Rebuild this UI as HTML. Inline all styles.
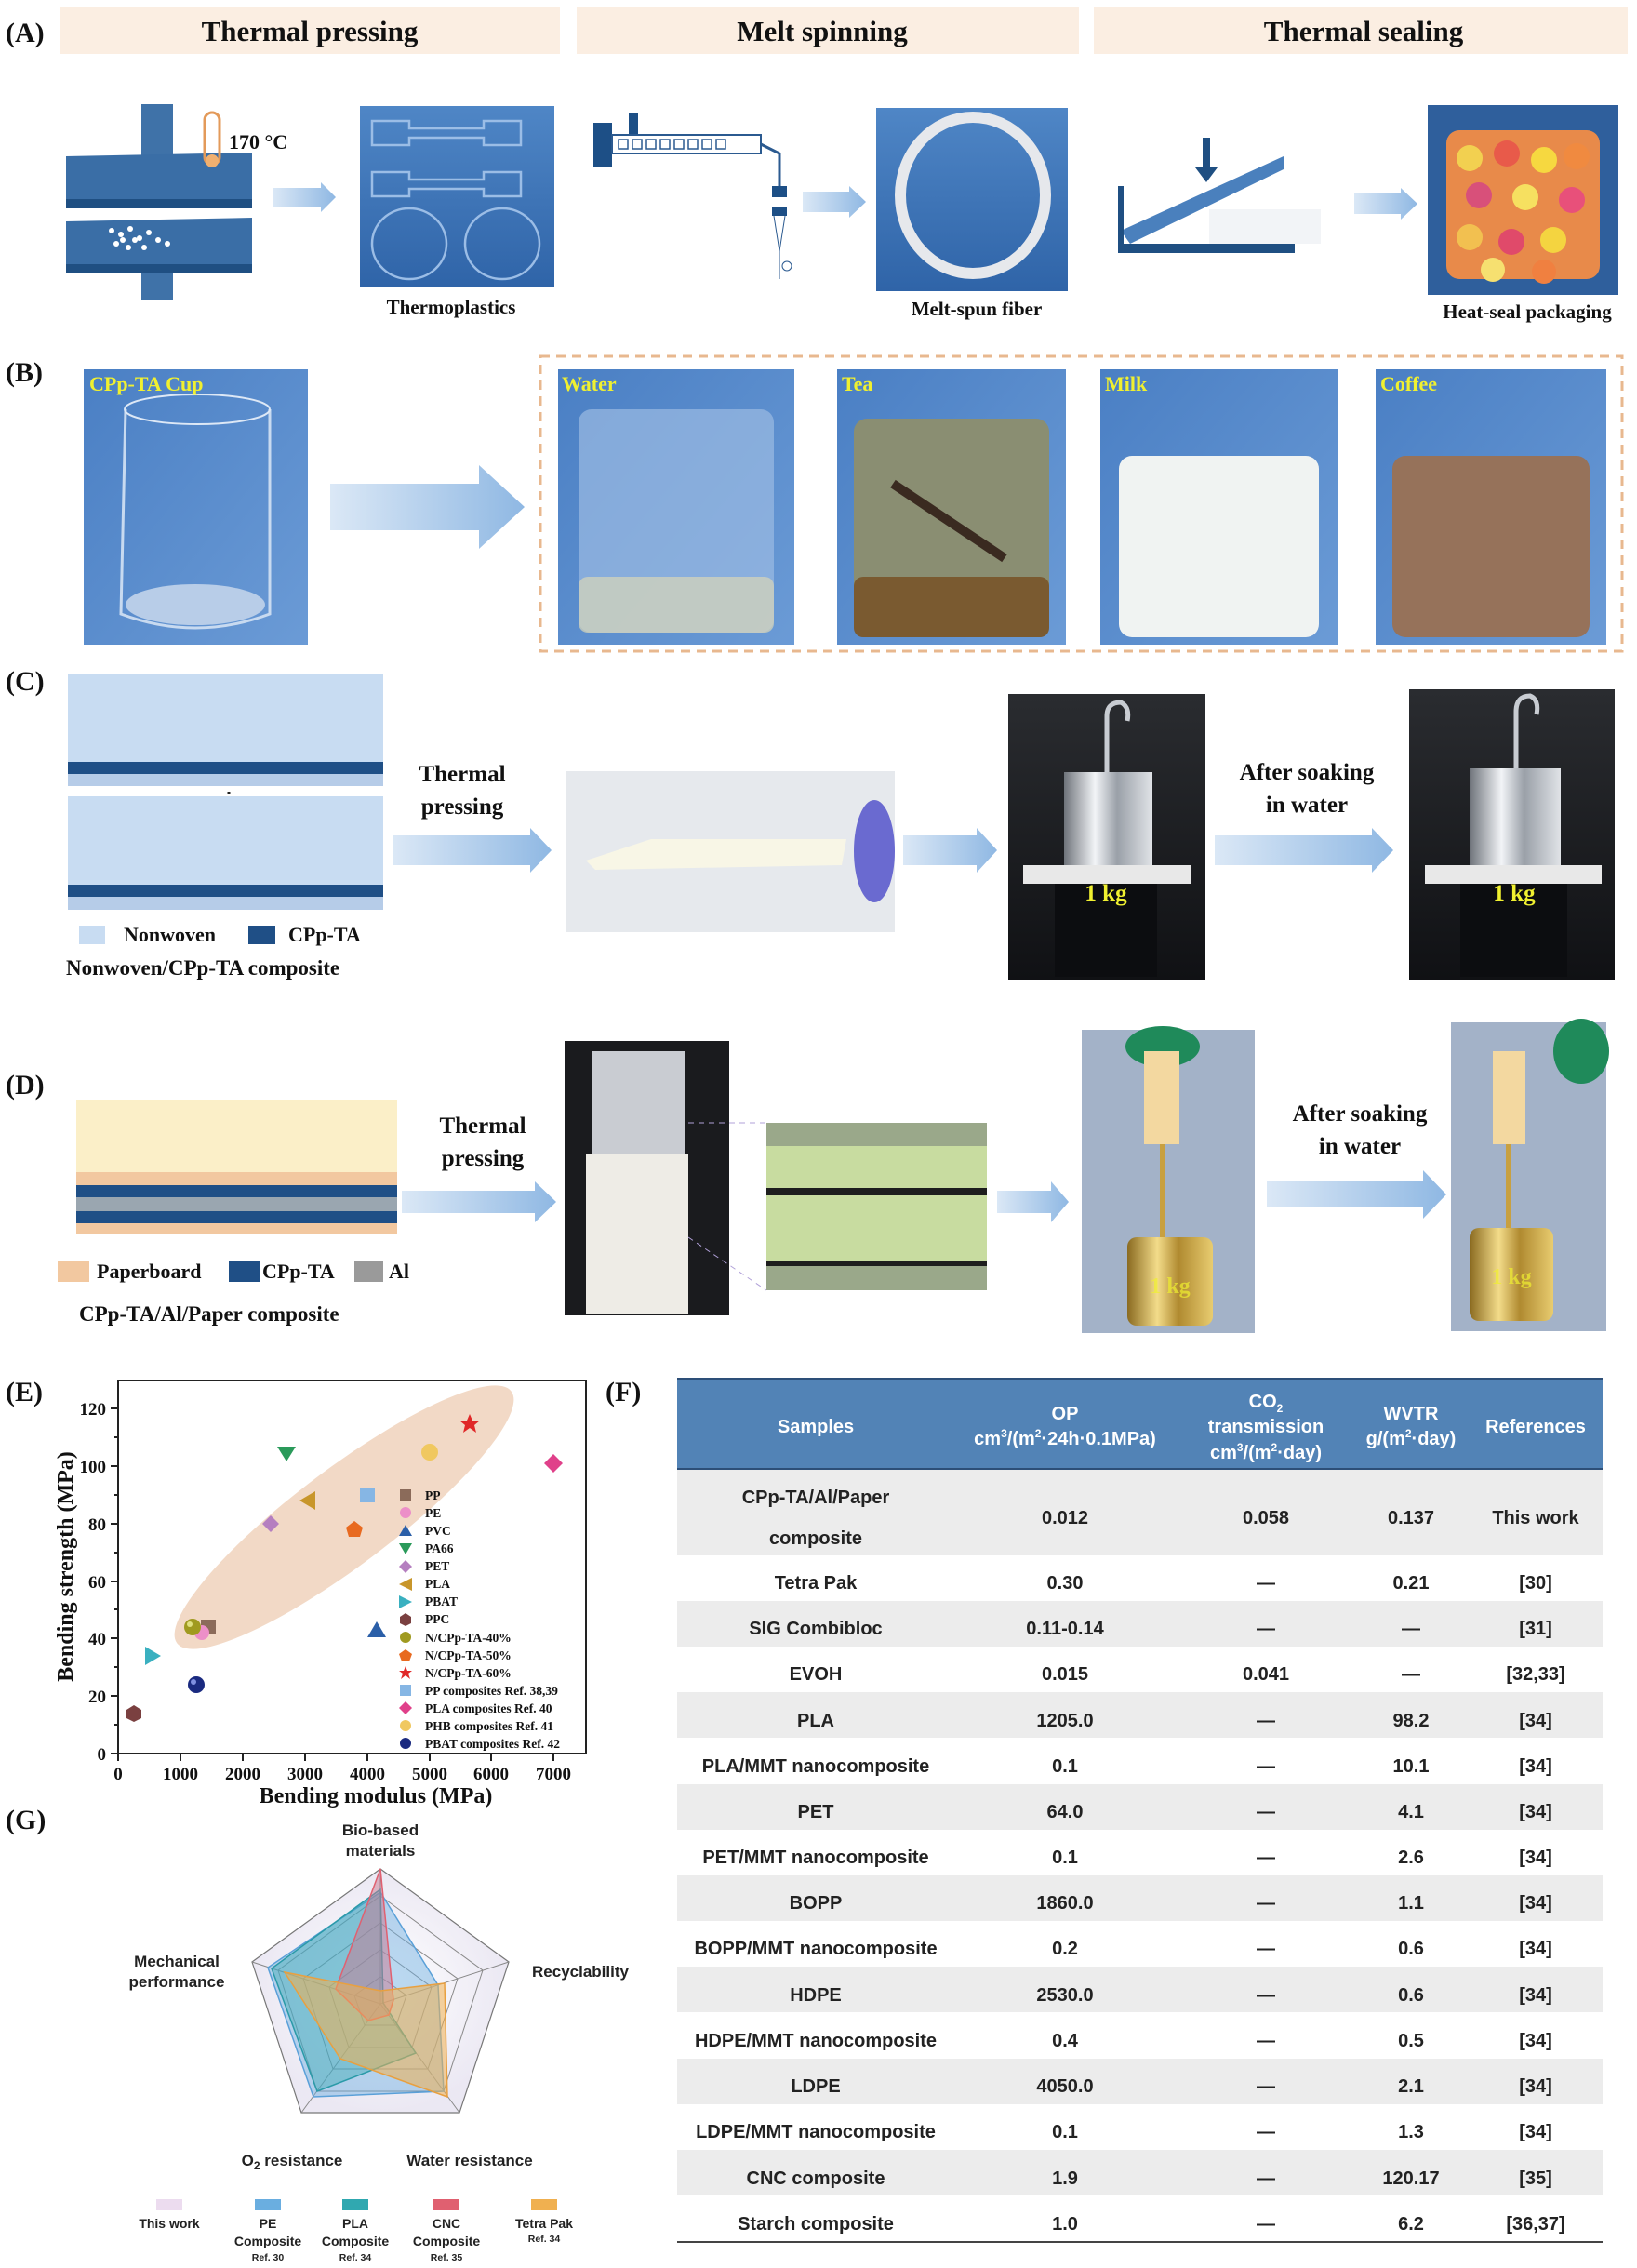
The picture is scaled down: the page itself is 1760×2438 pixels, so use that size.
<!DOCTYPE html>
<html><head><meta charset="utf-8"><style>
html,body{margin:0;padding:0;background:#fff;}
svg{display:block;}
.lab{font-family:"Liberation Serif",serif;font-weight:bold;font-size:30px;fill:#111;}
.ser{font-family:"Liberation Serif",serif;font-weight:bold;fill:#111;}
.san{font-family:"Liberation Sans",sans-serif;font-weight:bold;fill:#222;}
.td{font-family:"Liberation Sans",sans-serif;font-weight:bold;font-size:20px;fill:#222;text-anchor:middle;}
.th{font-family:"Liberation Sans",sans-serif;font-weight:bold;font-size:20px;fill:#fff;text-anchor:middle;}
</style></head><body>
<svg width="1760" height="2438" viewBox="0 0 1760 2438" xmlns="http://www.w3.org/2000/svg">
<defs>
<linearGradient id="arr" x1="0" x2="1"><stop offset="0" stop-color="#dbe8f6"/><stop offset="1" stop-color="#8fb8e3"/></linearGradient>
<linearGradient id="blue" x1="0" y1="0" x2="0" y2="1"><stop offset="0" stop-color="#4f86c6"/><stop offset="1" stop-color="#2f64a8"/></linearGradient>
<linearGradient id="cupbg" x1="0" y1="0" x2="1" y2="1"><stop offset="0" stop-color="#4a7fc4"/><stop offset="1" stop-color="#6b9bd6"/></linearGradient>
<linearGradient id="dark" x1="0" y1="0" x2="0" y2="1"><stop offset="0" stop-color="#2a2c30"/><stop offset="1" stop-color="#101114"/></linearGradient>
<linearGradient id="steel" x1="0" x2="1"><stop offset="0" stop-color="#6e737a"/><stop offset="0.35" stop-color="#f2f4f7"/><stop offset="0.6" stop-color="#9aa0a8"/><stop offset="1" stop-color="#e0e3e7"/></linearGradient>
<linearGradient id="gold" x1="0" x2="1"><stop offset="0" stop-color="#8a6a20"/><stop offset="0.35" stop-color="#f3dc8a"/><stop offset="0.6" stop-color="#b08a30"/><stop offset="1" stop-color="#e8cc70"/></linearGradient>
<radialGradient id="radbg"><stop offset="0" stop-color="#ffffff"/><stop offset="1" stop-color="#ebe8f3"/></radialGradient>
</defs>

<!-- ===== (A) ===== -->
<text class="lab" x="6" y="45">(A)</text>
<rect x="65" y="8" width="537" height="50" fill="#fbeee2"/>
<rect x="620" y="8" width="540" height="50" fill="#fbeee2"/>
<rect x="1176" y="8" width="574" height="50" fill="#fbeee2"/>
<text class="ser" x="333" y="44" font-size="31" text-anchor="middle">Thermal pressing</text>
<text class="ser" x="884" y="44" font-size="31" text-anchor="middle">Melt spinning</text>
<text class="ser" x="1466" y="44" font-size="31" text-anchor="middle">Thermal sealing</text>

<!-- press -->
<rect x="152" y="112" width="34" height="80" fill="#3f72a8"/>
<polygon points="71,168 271,164 271,214 71,218" fill="#3a6ea6"/>
<rect x="71" y="214" width="200" height="10" fill="#1f4f82"/>
<polygon points="71,238 271,234 271,284 71,288" fill="#3a6ea6"/>
<rect x="71" y="284" width="200" height="10" fill="#1f4f82"/>
<rect x="152" y="294" width="34" height="29" fill="#3f72a8"/>
<g fill="#fff"><circle cx="120" cy="248" r="3"/><circle cx="130" cy="252" r="3"/><circle cx="140" cy="246" r="3"/><circle cx="150" cy="256" r="3"/><circle cx="160" cy="250" r="3"/><circle cx="170" cy="258" r="3"/><circle cx="125" cy="262" r="3"/><circle cx="138" cy="266" r="3"/><circle cx="155" cy="266" r="3"/><circle cx="180" cy="262" r="3"/><circle cx="145" cy="258" r="3"/><circle cx="132" cy="258" r="3"/></g>
<rect x="220" y="121" width="16" height="56" rx="8" fill="none" stroke="#e39a5a" stroke-width="3"/>
<circle cx="228" cy="173" r="7" fill="#f0b070"/>
<text class="ser" x="246" y="160" font-size="22">170 °C</text>
<polygon points="293,202 345,202 345,196 361,212 345,228 345,222 293,222" fill="url(#arr)"/>
<!-- thermoplastics -->
<rect x="387" y="114" width="209" height="195" fill="url(#blue)"/>
<g fill="none" stroke="#9bbde6" stroke-width="2.5">
<path d="M400 130 h40 v8 h80 v-8 h40 v26 h-40 v-8 h-80 v8 h-40z"/>
<path d="M400 185 h40 v8 h80 v-8 h40 v26 h-40 v-8 h-80 v8 h-40z"/>
<ellipse cx="440" cy="262" rx="40" ry="38"/><ellipse cx="540" cy="262" rx="40" ry="38"/></g>
<text class="ser" x="485" y="337" font-size="21" text-anchor="middle">Thermoplastics</text>
<!-- melt spinning -->
<rect x="638" y="132" width="20" height="48" fill="#1d4f86"/>
<rect x="658" y="145" width="160" height="20" fill="#fff" stroke="#2b5a90" stroke-width="2"/>
<g fill="none" stroke="#2b5a90" stroke-width="1.5"><rect x="665" y="150" width="10" height="10"/><rect x="680" y="150" width="10" height="10"/><rect x="695" y="150" width="10" height="10"/><rect x="710" y="150" width="10" height="10"/><rect x="725" y="150" width="10" height="10"/><rect x="740" y="150" width="10" height="10"/><rect x="755" y="150" width="10" height="10"/><rect x="770" y="150" width="10" height="10"/></g>
<rect x="676" y="122" width="10" height="22" fill="#1d4f86"/>
<path d="M818 155 L838 165 L838 200" stroke="#2b5a90" stroke-width="3" fill="none"/>
<rect x="830" y="200" width="16" height="12" fill="#1d4f86"/><rect x="830" y="222" width="16" height="10" fill="#1d4f86"/>
<path d="M832 232 L838 270 L844 232" stroke="#2b5a90" fill="none"/>
<line x1="838" y1="270" x2="838" y2="300" stroke="#2b5a90"/><circle cx="846" cy="286" r="5" fill="none" stroke="#2b5a90"/>
<polygon points="863,206 913,206 913,200 931,217 913,234 913,228 863,228" fill="url(#arr)"/>
<rect x="942" y="116" width="206" height="197" fill="url(#blue)"/>
<ellipse cx="1046" cy="210" rx="78" ry="84" fill="none" stroke="#e6e8ec" stroke-width="12"/>
<text class="ser" x="1050" y="339" font-size="21" text-anchor="middle">Melt-spun fiber</text>
<!-- sealing -->
<polygon points="1205,248 1380,168 1380,182 1215,262" fill="#4a80bd"/>
<rect x="1202" y="200" width="6" height="66" fill="#1f4f82"/>
<rect x="1202" y="262" width="190" height="10" fill="#1f4f82"/>
<polygon points="1300,225 1420,225 1420,262 1300,262" fill="#f2f4f7"/>
<rect x="1293" y="148" width="8" height="34" fill="#1f4f82"/><polygon points="1285,180 1309,180 1297,196" fill="#1f4f82"/>
<polygon points="1456,208 1506,208 1506,202 1524,219 1506,236 1506,230 1456,230" fill="url(#arr)"/>
<rect x="1535" y="113" width="205" height="204" fill="#2f5f9c"/>
<rect x="1555" y="140" width="165" height="160" fill="#e88a4a" rx="14"/>
<g><circle cx="1580" cy="170" r="14" fill="#f2d050"/><circle cx="1620" cy="165" r="14" fill="#e85a4a"/><circle cx="1660" cy="172" r="14" fill="#f6d840"/><circle cx="1695" cy="168" r="14" fill="#f08a40"/><circle cx="1590" cy="210" r="14" fill="#d8507a"/><circle cx="1640" cy="212" r="14" fill="#f6e060"/><circle cx="1690" cy="215" r="14" fill="#e8507a"/><circle cx="1580" cy="255" r="14" fill="#f2c050"/><circle cx="1625" cy="260" r="14" fill="#e04a6a"/><circle cx="1670" cy="258" r="14" fill="#f4d440"/><circle cx="1605" cy="290" r="13" fill="#f6e070"/><circle cx="1660" cy="292" r="13" fill="#f08040"/></g>
<text class="ser" x="1642" y="342" font-size="21" text-anchor="middle">Heat-seal packaging</text>

<!-- ===== (B) ===== -->
<text class="lab" x="6" y="410">(B)</text>
<rect x="90" y="397" width="241" height="296" fill="url(#cupbg)"/>
<path d="M135 440 L130 660 Q210 690 290 660 L290 440" fill="none" stroke="#c8daf0" stroke-width="3"/>
<ellipse cx="212" cy="440" rx="78" ry="16" fill="none" stroke="#dde8f6" stroke-width="2"/>
<ellipse cx="210" cy="650" rx="75" ry="22" fill="#b8cde8"/>
<text x="96" y="420" font-family="Liberation Serif,serif" font-weight="bold" font-size="22" fill="#f0f030">CPp-TA Cup</text>
<polygon points="355,520 515,520 515,500 564,545 515,590 515,570 355,570" fill="url(#arr)"/>
<rect x="581" y="383" width="1163" height="317" fill="none" stroke="#e8b88f" stroke-width="3" stroke-dasharray="10,7"/>
<rect x="600" y="397" width="254" height="296" fill="url(#cupbg)"/>
<rect x="622" y="440" width="210" height="240" rx="14" fill="#9bbbe3" opacity="0.7"/>
<rect x="622" y="620" width="210" height="60" rx="10" fill="#d8d6b8" opacity="0.7"/>
<rect x="900" y="397" width="246" height="296" fill="url(#cupbg)"/>
<rect x="918" y="450" width="210" height="235" rx="14" fill="#8a8e72"/>
<rect x="918" y="620" width="210" height="65" rx="10" fill="#7a5a30"/>
<path d="M960 520 Q1020 560 1080 600" stroke="#3a2a20" stroke-width="10" fill="none"/>
<rect x="1183" y="397" width="255" height="296" fill="url(#cupbg)"/>
<rect x="1203" y="490" width="215" height="195" rx="14" fill="#f0f3f2"/>
<rect x="1479" y="397" width="248" height="296" fill="url(#cupbg)"/>
<rect x="1497" y="490" width="212" height="195" rx="14" fill="#96725a"/>
<g font-family="Liberation Serif,serif" font-weight="bold" font-size="22" fill="#f0f030"><text x="604" y="420">Water</text><text x="905" y="420">Tea</text><text x="1188" y="420">Milk</text><text x="1484" y="420">Coffee</text></g>

<!-- ===== (C) ===== -->
<text class="lab" x="6" y="742">(C)</text>
<rect x="73" y="724" width="339" height="95" fill="#c8dcf2"/>
<rect x="73" y="819" width="339" height="13" fill="#1f4f86"/>
<rect x="73" y="832" width="339" height="13" fill="#b6cce8"/>
<line x1="246" y1="851" x2="246" y2="895" stroke="#222" stroke-width="3" stroke-dasharray="3,6"/>
<rect x="73" y="856" width="339" height="95" fill="#c8dcf2"/>
<rect x="73" y="951" width="339" height="13" fill="#1f4f86"/>
<rect x="73" y="964" width="339" height="14" fill="#b6cce8"/>
<rect x="85" y="995" width="28" height="20" fill="#c8dcf2"/><text class="ser" x="133" y="1012" font-size="22">Nonwoven</text>
<rect x="267" y="995" width="29" height="20" fill="#1f4f86"/><text class="ser" x="310" y="1012" font-size="22">CPp-TA</text>
<text class="ser" x="71" y="1048" font-size="23">Nonwoven/CPp-TA composite</text>
<text class="ser" x="497" y="840" font-size="25" text-anchor="middle">Thermal</text>
<text class="ser" x="497" y="875" font-size="25" text-anchor="middle">pressing</text>
<polygon points="423,898 570,898 570,890 593,914 570,938 570,930 423,930" fill="url(#arr)"/>
<rect x="609" y="829" width="353" height="173" fill="#e6e9ed"/>
<polygon points="630,925 700,902 910,902 905,930 640,935" fill="#f8f6e6"/>
<ellipse cx="940" cy="915" rx="22" ry="55" fill="#6a6ad0"/>
<polygon points="971,898 1050,898 1050,890 1072,914 1050,938 1050,930 971,930" fill="url(#arr)"/>
<rect x="1084" y="746" width="212" height="307" fill="url(#dark)"/>
<rect x="1144" y="830" width="95" height="100" fill="url(#steel)"/>
<path d="M1190 830 L1190 770 Q1190 755 1205 755 Q1215 760 1212 775" stroke="#c8ccd2" stroke-width="5" fill="none"/>
<rect x="1100" y="930" width="180" height="20" fill="#e8e8e8"/>
<rect x="1134" y="950" width="110" height="100" fill="#0c0d10"/>
<text x="1189" y="968" font-family="Liberation Serif,serif" font-weight="bold" font-size="25" fill="#f0f030" text-anchor="middle">1 kg</text>
<text class="ser" x="1405" y="838" font-size="25" text-anchor="middle">After soaking</text>
<text class="ser" x="1405" y="873" font-size="25" text-anchor="middle">in water</text>
<polygon points="1306,898 1475,898 1475,890 1498,914 1475,938 1475,930 1306,930" fill="url(#arr)"/>
<rect x="1515" y="741" width="221" height="312" fill="url(#dark)"/>
<rect x="1580" y="826" width="98" height="104" fill="url(#steel)"/>
<path d="M1630 826 L1630 765 Q1630 748 1645 748 Q1655 752 1652 768" stroke="#c8ccd2" stroke-width="5" fill="none"/>
<rect x="1532" y="930" width="190" height="20" fill="#e8e8e8"/>
<rect x="1570" y="950" width="115" height="100" fill="#0c0d10"/>
<text x="1628" y="968" font-family="Liberation Serif,serif" font-weight="bold" font-size="25" fill="#f0f030" text-anchor="middle">1 kg</text>

<!-- ===== (D) ===== -->
<text class="lab" x="6" y="1176">(D)</text>
<rect x="82" y="1182" width="345" height="78" fill="#fbefc8"/>
<rect x="82" y="1260" width="345" height="14" fill="#f2c8a0"/>
<rect x="82" y="1274" width="345" height="13" fill="#1f4f86"/>
<rect x="82" y="1287" width="345" height="15" fill="#9aa6b0"/>
<rect x="82" y="1302" width="345" height="13" fill="#1f4f86"/>
<rect x="82" y="1315" width="345" height="11" fill="#f2c8a0"/>
<rect x="62" y="1356" width="34" height="22" fill="#f2c8a0"/><text class="ser" x="104" y="1374" font-size="22">Paperboard</text>
<rect x="246" y="1356" width="34" height="22" fill="#1f4f86"/><text class="ser" x="282" y="1374" font-size="22">CPp-TA</text>
<rect x="381" y="1356" width="31" height="22" fill="#9a9a9a"/><text class="ser" x="418" y="1374" font-size="22">Al</text>
<text class="ser" x="85" y="1420" font-size="23">CPp-TA/Al/Paper composite</text>
<text class="ser" x="519" y="1218" font-size="25" text-anchor="middle">Thermal</text>
<text class="ser" x="519" y="1253" font-size="25" text-anchor="middle">pressing</text>
<polygon points="432,1280 575,1280 575,1270 598,1292 575,1314 575,1304 432,1304" fill="url(#arr)"/>
<rect x="607" y="1119" width="177" height="295" fill="#1a1b1e"/>
<rect x="637" y="1130" width="100" height="110" fill="#c9ccd2"/>
<rect x="630" y="1240" width="110" height="172" fill="#eeece6"/>
<line x1="740" y1="1207" x2="824" y2="1207" stroke="#b0a0d8" stroke-dasharray="6,5"/>
<line x1="740" y1="1330" x2="824" y2="1387" stroke="#b0a0d8" stroke-dasharray="6,5"/>
<rect x="824" y="1207" width="237" height="180" fill="#9aa88a"/>
<rect x="824" y="1232" width="237" height="45" fill="#c8dca0"/>
<rect x="824" y="1277" width="237" height="8" fill="#1e1e1e"/>
<rect x="824" y="1285" width="237" height="70" fill="#c8dca0"/>
<rect x="824" y="1355" width="237" height="6" fill="#1e1e1e"/>
<polygon points="1072,1280 1130,1280 1130,1270 1149,1292 1130,1314 1130,1304 1072,1304" fill="url(#arr)"/>
<rect x="1163" y="1107" width="186" height="326" fill="#a3b2c8"/>
<ellipse cx="1250" cy="1125" rx="40" ry="22" fill="#1f8a5a"/>
<rect x="1230" y="1130" width="38" height="100" fill="#f3d8a0"/>
<rect x="1212" y="1330" width="92" height="95" rx="10" fill="url(#gold)"/>
<line x1="1250" y1="1230" x2="1250" y2="1330" stroke="#c8a040" stroke-width="6"/>
<text x="1258" y="1390" font-family="Liberation Serif,serif" font-weight="bold" font-size="24" fill="#f0f030" text-anchor="middle" opacity="0.7">1 kg</text>
<text class="ser" x="1462" y="1205" font-size="25" text-anchor="middle">After soaking</text>
<text class="ser" x="1462" y="1240" font-size="25" text-anchor="middle">in water</text>
<polygon points="1362,1270 1530,1270 1530,1258 1555,1284 1530,1310 1530,1298 1362,1298" fill="url(#arr)"/>
<rect x="1560" y="1099" width="167" height="332" fill="#a3b2c8"/>
<ellipse cx="1700" cy="1130" rx="30" ry="35" fill="#1f8a5a"/>
<rect x="1605" y="1130" width="35" height="100" fill="#f3d8a0"/>
<line x1="1622" y1="1230" x2="1622" y2="1320" stroke="#c8a040" stroke-width="6"/>
<rect x="1580" y="1320" width="90" height="100" rx="10" fill="url(#gold)"/>
<text x="1625" y="1380" font-family="Liberation Serif,serif" font-weight="bold" font-size="24" fill="#f0f030" text-anchor="middle" opacity="0.7">1 kg</text>

<!-- ===== (E) ===== -->
<text class="lab" x="6" y="1506">(E)</text>
<ellipse cx="370" cy="1631" rx="225" ry="52" transform="rotate(-37 370 1631)" fill="#efcfb8" opacity="0.8"/>
<rect x="127" y="1484" width="503" height="401" fill="none" stroke="#222" stroke-width="2"/>
<g stroke="#222" stroke-width="2">
<line x1="127" y1="1885" x2="127" y2="1893"/><line x1="194" y1="1885" x2="194" y2="1893"/><line x1="261" y1="1885" x2="261" y2="1893"/><line x1="328" y1="1885" x2="328" y2="1893"/><line x1="395" y1="1885" x2="395" y2="1893"/><line x1="462" y1="1885" x2="462" y2="1893"/><line x1="528" y1="1885" x2="528" y2="1893"/><line x1="595" y1="1885" x2="595" y2="1893"/>
<line x1="119" y1="1885" x2="127" y2="1885"/><line x1="119" y1="1823" x2="127" y2="1823"/><line x1="119" y1="1761" x2="127" y2="1761"/><line x1="119" y1="1700" x2="127" y2="1700"/><line x1="119" y1="1638" x2="127" y2="1638"/><line x1="119" y1="1576" x2="127" y2="1576"/><line x1="119" y1="1514" x2="127" y2="1514"/>
<line x1="123" y1="1854" x2="127" y2="1854"/><line x1="123" y1="1792" x2="127" y2="1792"/><line x1="123" y1="1730" x2="127" y2="1730"/><line x1="123" y1="1669" x2="127" y2="1669"/><line x1="123" y1="1607" x2="127" y2="1607"/><line x1="123" y1="1545" x2="127" y2="1545"/>
</g>
<g class="ser" font-size="19" text-anchor="middle">
<text x="127" y="1913">0</text><text x="194" y="1913">1000</text><text x="261" y="1913">2000</text><text x="328" y="1913">3000</text><text x="395" y="1913">4000</text><text x="462" y="1913">5000</text><text x="528" y="1913">6000</text><text x="595" y="1913">7000</text></g>
<g class="ser" font-size="19" text-anchor="end">
<text x="114" y="1892">0</text><text x="114" y="1830">20</text><text x="114" y="1768">40</text><text x="114" y="1707">60</text><text x="114" y="1645">80</text><text x="114" y="1583">100</text><text x="114" y="1521">120</text></g>
<text class="ser" x="404" y="1938" font-size="24" text-anchor="middle">Bending modulus (MPa)</text>
<text class="ser" x="0" y="0" font-size="24" text-anchor="middle" transform="translate(78 1684) rotate(-90)">Bending strength (MPa)</text>
<!-- points -->
<rect x="216" y="1741" width="16" height="16" fill="#8b6b5a"/>
<circle cx="217" cy="1755" r="8" fill="#ec8fc8"/>
<polygon points="405,1743 415,1760 395,1760" fill="#2b5fa8"/>
<polygon points="298,1555 318,1555 308,1571" fill="#2a9a5a"/>
<polygon points="291,1629 300,1638 291,1647 282,1638" fill="#b57fc0"/>
<polygon points="322,1613 339,1603 339,1623" fill="#c8962b"/>
<polygon points="173,1780 156,1770 156,1790" fill="#3ab0c0"/>
<polygon points="144,1833 152,1838 152,1847 144,1851 136,1847 136,1838" fill="#7a4040"/>
<circle cx="207" cy="1749" r="9" fill="#a09a20"/><circle cx="204" cy="1746" r="3" fill="#e0e080"/>
<polygon points="381,1635 390,1642 387,1652 375,1652 372,1642" fill="#e86a20"/>
<polygon points="505,1520 508,1527 516,1527 510,1532 512,1540 505,1535 498,1540 500,1532 494,1527 502,1527" fill="#e02828"/>
<rect x="387" y="1599" width="16" height="16" fill="#86b6e4"/>
<polygon points="595,1563 605,1573 595,1583 585,1573" fill="#e0408a"/>
<circle cx="462" cy="1561" r="9" fill="#f0c860"/>
<circle cx="211" cy="1811" r="9" fill="#1a2a80"/><circle cx="208" cy="1808" r="3" fill="#8090e0"/>
<!-- legend -->
<g class="ser" font-size="13.5">
<rect x="430" y="1601" width="12" height="12" fill="#8b6b5a"/><text x="457" y="1612">PP</text>
<circle cx="436" cy="1626" r="6" fill="#ec8fc8"/><text x="457" y="1631">PE</text>
<polygon points="436,1639 443,1651 429,1651" fill="#2b5fa8"/><text x="457" y="1650">PVC</text>
<polygon points="429,1659 443,1659 436,1671" fill="#2a9a5a"/><text x="457" y="1669">PA66</text>
<polygon points="436,1677 443,1684 436,1691 429,1684" fill="#b57fc0"/><text x="457" y="1688">PET</text>
<polygon points="429,1703 443,1696 443,1710" fill="#c8962b"/><text x="457" y="1707">PLA</text>
<polygon points="443,1722 429,1715 429,1729" fill="#3ab0c0"/><text x="457" y="1726">PBAT</text>
<polygon points="436,1734 442,1738 442,1745 436,1748 430,1745 430,1738" fill="#7a4040"/><text x="457" y="1745">PPC</text>
<circle cx="436" cy="1760" r="6" fill="#a09a20"/><text x="457" y="1765">N/CPp-TA-40%</text>
<polygon points="436,1773 443,1778 440,1786 432,1786 429,1778" fill="#e86a20"/><text x="457" y="1784">N/CPp-TA-50%</text>
<polygon points="436,1791 438,1796 443,1796 439,1799 441,1805 436,1801 431,1805 433,1799 429,1796 434,1796" fill="#e02828"/><text x="457" y="1803">N/CPp-TA-60%</text>
<rect x="430" y="1811" width="12" height="12" fill="#86b6e4"/><text x="457" y="1822">PP composites Ref. 38,39</text>
<polygon points="436,1829 443,1836 436,1843 429,1836" fill="#e0408a"/><text x="457" y="1841">PLA composites Ref. 40</text>
<circle cx="436" cy="1855" r="6" fill="#f0c860"/><text x="457" y="1860">PHB composites Ref. 41</text>
<circle cx="436" cy="1874" r="6" fill="#1a2a80"/><text x="457" y="1879">PBAT composites Ref. 42</text>
</g>

<!-- ===== (G) ===== -->
<text class="lab" x="6" y="1966">(G)</text>
<polygon points="409,2009 547,2109 494,2271 324,2271 271,2109" fill="url(#radbg)" stroke="#777" stroke-width="1.2"/>
<g fill="none" stroke="#888" stroke-width="1">
<polygon points="409,2038 519,2118 477,2248 341,2248 299,2118"/>
<polygon points="409,2067 492,2127 460,2224 358,2224 326,2127"/>
<polygon points="409,2096 464,2136 443,2201 375,2201 354,2136"/>
<polygon points="409,2125 437,2145 426,2177 392,2177 381,2145"/>
<line x1="409" y1="2154" x2="409" y2="2009"/><line x1="409" y1="2154" x2="547" y2="2109"/><line x1="409" y1="2154" x2="494" y2="2271"/><line x1="409" y1="2154" x2="324" y2="2271"/><line x1="409" y1="2154" x2="271" y2="2109"/>
</g>
<polygon points="409,2034 471,2134 477,2248 337,2254 288,2115" fill="#6aaee0" fill-opacity="0.45" stroke="#5aa0d8" stroke-width="1.5"/>
<polygon points="409,2031 412,2153 447,2207 341,2248 292,2116" fill="#30a8b0" fill-opacity="0.4" stroke="#2a9aa8" stroke-width="1.5"/>
<polygon points="409,2009 423,2150 418,2166 396,2172 361,2138" fill="#c87890" fill-opacity="0.5" stroke="#e06070" stroke-width="1.5"/>
<polygon points="409,2140 478,2132 481,2254 366,2213 306,2120" fill="#f0b050" fill-opacity="0.55" stroke="#e8a040" stroke-width="1.5"/>
<g class="san" font-size="17" text-anchor="middle">
<text x="409" y="1973">Bio-based</text><text x="409" y="1995">materials</text>
<text x="190" y="2114">Mechanical</text><text x="190" y="2136">performance</text>
<text x="624" y="2125">Recyclability</text>
<text x="314" y="2328">O<tspan font-size="12" dy="4">2</tspan><tspan dy="-4"> resistance</tspan></text>
<text x="505" y="2328">Water resistance</text>
</g>
<rect x="168" y="2364" width="28" height="12" fill="#ecdcef"/>
<rect x="274" y="2364" width="28" height="12" fill="#6aaee0"/>
<rect x="368" y="2364" width="28" height="12" fill="#30a8b0"/>
<rect x="466" y="2364" width="28" height="12" fill="#e06070"/>
<rect x="571" y="2364" width="28" height="12" fill="#f0b050"/>
<g class="san" font-size="14" text-anchor="middle">
<text x="182" y="2395">This work</text>
<text x="288" y="2395">PE</text><text x="288" y="2414">Composite</text>
<text x="382" y="2395">PLA</text><text x="382" y="2414">Composite</text>
<text x="480" y="2395">CNC</text><text x="480" y="2414">Composite</text>
<text x="585" y="2395">Tetra Pak</text>
</g>
<g class="san" font-size="10.5" text-anchor="middle">
<text x="288" y="2430">Ref. 30</text><text x="382" y="2430">Ref. 34</text><text x="480" y="2430">Ref. 35</text><text x="585" y="2410">Ref. 34</text>
</g>

<!-- ===== (F) ===== -->
<text class="lab" x="651" y="1506">(F)</text>
<rect x="728" y="1482" width="995" height="97" fill="#5283b6"/>
<line x1="728" y1="1482" x2="1723" y2="1482" stroke="#2d4f78" stroke-width="2"/>
<line x1="728" y1="1579" x2="1723" y2="1579" stroke="#2d4f78" stroke-width="2"/>
<text class="th" x="877" y="1540" font-size="23">Samples</text>
<text class="th" x="1145" y="1526">OP</text>
<text class="th" x="1145" y="1553">cm<tspan font-size="12" dy="-8">3</tspan><tspan dy="8">/(m</tspan><tspan font-size="12" dy="-8">2</tspan><tspan dy="8">·24h·0.1MPa)</tspan></text>
<text class="th" x="1361" y="1513">CO<tspan font-size="12" dy="5">2</tspan></text>
<text class="th" x="1361" y="1540">transmission</text>
<text class="th" x="1361" y="1568">cm<tspan font-size="12" dy="-8">3</tspan><tspan dy="8">/(m</tspan><tspan font-size="12" dy="-8">2</tspan><tspan dy="8">·day)</tspan></text>
<text class="th" x="1517" y="1526">WVTR</text>
<text class="th" x="1517" y="1553">g/(m<tspan font-size="12" dy="-8">2</tspan><tspan dy="8">·day)</tspan></text>
<text class="th" x="1651" y="1540">References</text>
<g fill="#ececec">
<rect x="728" y="1580" width="995" height="92"/>
<rect x="728" y="1721" width="995" height="49"/>
<rect x="728" y="1819" width="995" height="49"/>
<rect x="728" y="1918" width="995" height="49"/>
<rect x="728" y="2016" width="995" height="49"/>
<rect x="728" y="2114" width="995" height="49"/>
<rect x="728" y="2213" width="995" height="49"/>
<rect x="728" y="2311" width="995" height="49"/>
</g>
<line x1="728" y1="2410" x2="1723" y2="2410" stroke="#444" stroke-width="2"/>
<g class="td">
<text x="877" y="1616">CPp-TA/Al/Paper</text><text x="877" y="1660">composite</text>
<text x="1145" y="1638">0.012</text><text x="1361" y="1638">0.058</text><text x="1517" y="1638">0.137</text><text x="1651" y="1638">This work</text>
<text x="877" y="1708">Tetra Pak</text><text x="1145" y="1708">0.30</text><text x="1361" y="1708">—</text><text x="1517" y="1708">0.21</text><text x="1651" y="1708">[30]</text>
<text x="877" y="1757">SIG Combibloc</text><text x="1145" y="1757">0.11-0.14</text><text x="1361" y="1757">—</text><text x="1517" y="1757">—</text><text x="1651" y="1757">[31]</text>
<text x="877" y="1806">EVOH</text><text x="1145" y="1806">0.015</text><text x="1361" y="1806">0.041</text><text x="1517" y="1806">—</text><text x="1651" y="1806">[32,33]</text>
<text x="877" y="1856">PLA</text><text x="1145" y="1856">1205.0</text><text x="1361" y="1856">—</text><text x="1517" y="1856">98.2</text><text x="1651" y="1856">[34]</text>
<text x="877" y="1905">PLA/MMT nanocomposite</text><text x="1145" y="1905">0.1</text><text x="1361" y="1905">—</text><text x="1517" y="1905">10.1</text><text x="1651" y="1905">[34]</text>
<text x="877" y="1954">PET</text><text x="1145" y="1954">64.0</text><text x="1361" y="1954">—</text><text x="1517" y="1954">4.1</text><text x="1651" y="1954">[34]</text>
<text x="877" y="2003">PET/MMT nanocomposite</text><text x="1145" y="2003">0.1</text><text x="1361" y="2003">—</text><text x="1517" y="2003">2.6</text><text x="1651" y="2003">[34]</text>
<text x="877" y="2052">BOPP</text><text x="1145" y="2052">1860.0</text><text x="1361" y="2052">—</text><text x="1517" y="2052">1.1</text><text x="1651" y="2052">[34]</text>
<text x="877" y="2101">BOPP/MMT nanocomposite</text><text x="1145" y="2101">0.2</text><text x="1361" y="2101">—</text><text x="1517" y="2101">0.6</text><text x="1651" y="2101">[34]</text>
<text x="877" y="2151">HDPE</text><text x="1145" y="2151">2530.0</text><text x="1361" y="2151">—</text><text x="1517" y="2151">0.6</text><text x="1651" y="2151">[34]</text>
<text x="877" y="2200">HDPE/MMT nanocomposite</text><text x="1145" y="2200">0.4</text><text x="1361" y="2200">—</text><text x="1517" y="2200">0.5</text><text x="1651" y="2200">[34]</text>
<text x="877" y="2249">LDPE</text><text x="1145" y="2249">4050.0</text><text x="1361" y="2249">—</text><text x="1517" y="2249">2.1</text><text x="1651" y="2249">[34]</text>
<text x="877" y="2298">LDPE/MMT nanocomposite</text><text x="1145" y="2298">0.1</text><text x="1361" y="2298">—</text><text x="1517" y="2298">1.3</text><text x="1651" y="2298">[34]</text>
<text x="877" y="2348">CNC  composite</text><text x="1145" y="2348">1.9</text><text x="1361" y="2348">—</text><text x="1517" y="2348">120.17</text><text x="1651" y="2348">[35]</text>
<text x="877" y="2397">Starch composite</text><text x="1145" y="2397">1.0</text><text x="1361" y="2397">—</text><text x="1517" y="2397">6.2</text><text x="1651" y="2397">[36,37]</text>
</g>
</svg>
</body></html>
